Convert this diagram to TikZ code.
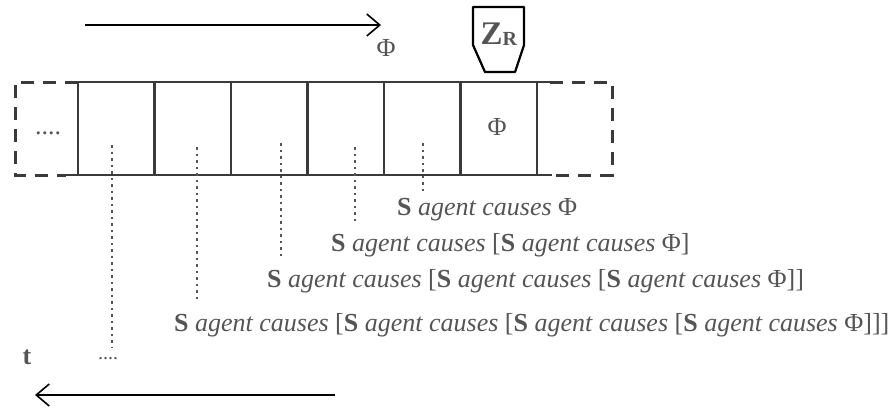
\documentclass[tikz,border=0pt]{standalone}
\usepackage{fontspec}
\setmainfont{Liberation Serif}
\usetikzlibrary{arrows.meta}
\definecolor{ink}{HTML}{555555}
\definecolor{lineink}{HTML}{3A3A3A}
\newcommand{\Sagent}{\textbf{S}\ \textit{agent causes}\ }
\begin{document}
\begin{tikzpicture}[x=1pt,y=-1pt,
  tapesolid/.style={draw=lineink, line width=2.5pt},
  tapedash/.style={draw=lineink, line width=3pt, dash pattern=on 13pt off 9pt},
  cellbox/.style={draw=lineink, line width=2.5pt, minimum width=76.5pt, minimum height=93pt, inner sep=0pt, outer sep=0pt},
  dotline/.style={draw=ink, line width=2.5pt, dash pattern=on 2.5pt off 4pt},
  lbl/.style={text=ink, font=\fontsize{26}{30}\selectfont, inner sep=0pt},
  arr/.style={draw=black, line width=1.6pt, -{Straight Barb[length=13pt,width=22pt,line width=1.6pt]}},
  headbox/.style={draw=black, line width=2.2pt, line join=round}]
\useasboundingbox (0,0) rectangle (893,412);

% top arrow
\coordinate (ta1) at (85,25);
\coordinate (ta2) at (381,25);
\draw[arr] (ta1) -- (ta2);
\node[lbl] (phiarrow) at (386,48) {Φ};

% read head
\draw[headbox] (473,7) -- (524,7) -- (524,45) -- (515,72) -- (485,72) -- (473,45) -- cycle;
\node[text=ink, inner sep=0pt] (zr) at (499,34) {\fontsize{33}{35}\selectfont\textbf{Z}\raisebox{-1pt}{\fontsize{20}{22}\selectfont\textbf{R}}};

% cells
\foreach \i in {1,...,6} {
  \node[cellbox] (c\i) at ({78+76.5*(\i-0.5)},128.5) {};
}
\node[lbl] (phicell) at (497,127) {Φ};

% solid extensions
\draw[tapesolid] (c6.north east) -- ++(13,0);
\draw[tapesolid] (c1.south west) -- ++(-12,0);
\draw[tapesolid] (c6.south east) -- ++(15,0);

% dashed ends
\draw[tapedash] (78,82) -- (15,82) -- (15,175) -- (66,175);
\draw[tapedash] (550,82) -- (612,82) -- (612,175) -- (552,175);
\node[lbl] (dotsL) at (48,133) {....};

% text rows
\node[lbl, anchor=base west] (r1) at (397,215) {\Sagent Φ};
\node[lbl, anchor=base west] (r2) at (331,251) {\Sagent [\Sagent Φ]};
\node[lbl, anchor=base west] (r3) at (267,287) {\Sagent [\Sagent [\Sagent Φ]]};
\node[lbl, anchor=base west] (r4) at (174,331) {\Sagent [\Sagent [\Sagent [\Sagent Φ]]]};

% dotted lines
\coordinate (d1a) at (112,145); \coordinate (d1b) at (112,347);
\coordinate (d2a) at (197,147); \coordinate (d2b) at (197,302);
\coordinate (d3a) at (281,143); \coordinate (d3b) at (281,258);
\coordinate (d4a) at (355,147); \coordinate (d4b) at (355,221);
\coordinate (d5a) at (423,143); \coordinate (d5b) at (423,194);
\draw[dotline] (d1a) -- (d1b);
\draw[dotline] (d2a) -- (d2b);
\draw[dotline] (d3a) -- (d3b);
\draw[dotline] (d4a) -- (d4b);
\draw[dotline] (d5a) -- (d5b);

% time
\node[lbl, font=\fontsize{26}{30}\selectfont\bfseries] (t) at (27,357) {t};
\node[lbl, font=\fontsize{20}{24}\selectfont] (dotsB) at (108,359) {....};
\coordinate (ba1) at (335,395);
\coordinate (ba2) at (35,395);
\draw[arr] (ba1) -- (ba2);
\end{tikzpicture}
\end{document}
